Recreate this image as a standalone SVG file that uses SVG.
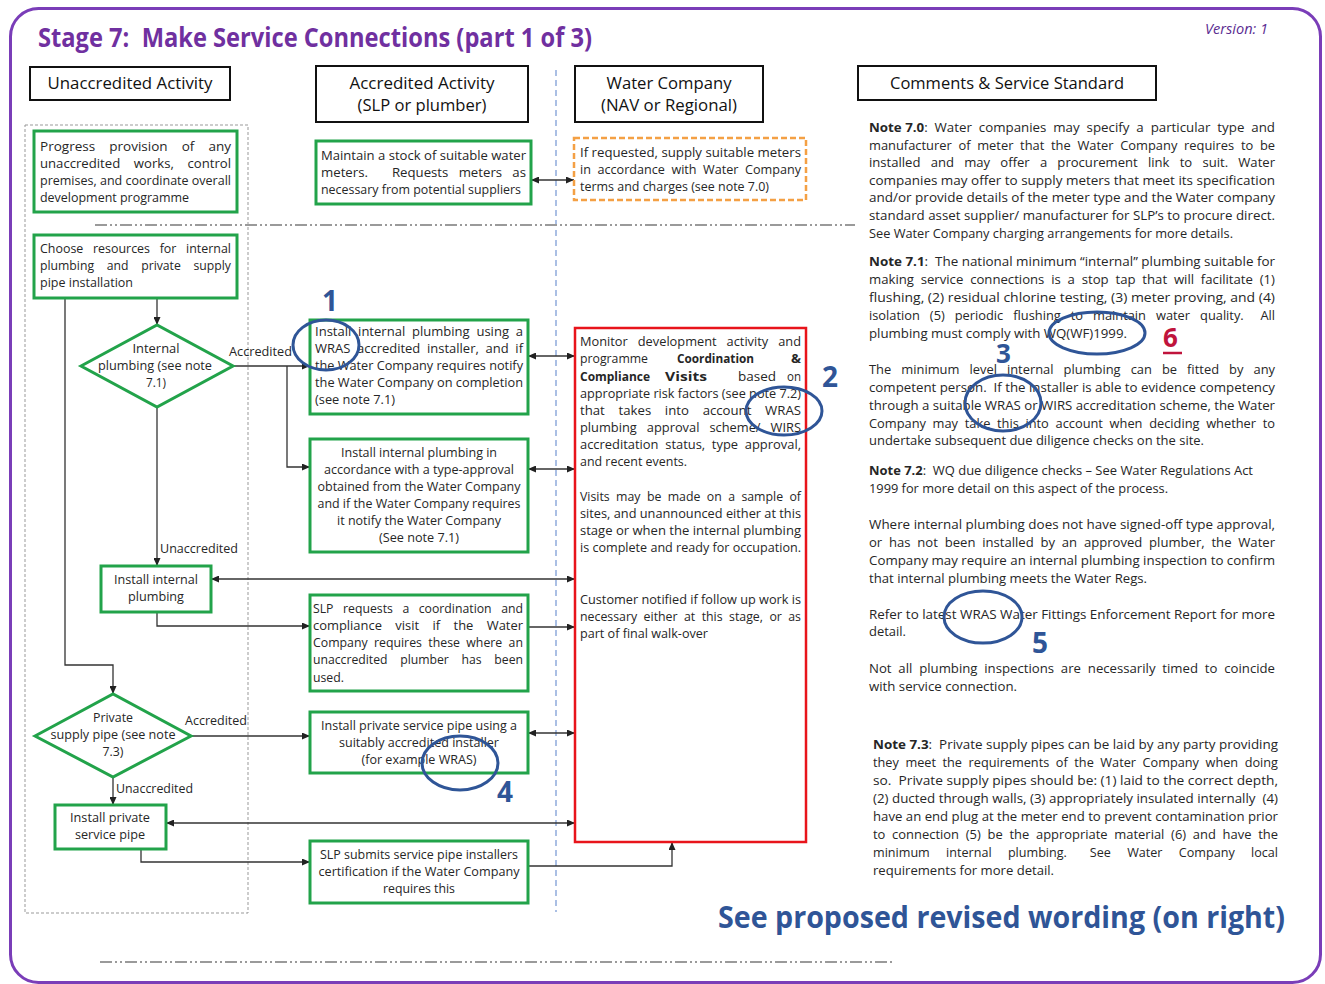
<svg xmlns="http://www.w3.org/2000/svg" width="1325" height="984" viewBox="0 0 1325 984">
<defs>
<style>
.t{font-family:"Open Sans","Liberation Sans",Arial,sans-serif;font-size:12px;fill:#262626;white-space:pre}
.b{font-weight:bold}
.h{font-size:16.5px;fill:#111}
.c{text-anchor:middle}
.box{fill:#fff;stroke:#22A34A;stroke-width:3}
.hdr{fill:#fff;stroke:#111;stroke-width:2}
.con{fill:none;stroke:#333;stroke-width:1.3}
.ell{fill:none;stroke:#2F5597;stroke-width:3}
.num{font-family:"Open Sans","Liberation Sans",sans-serif;font-weight:bold;font-size:28px;fill:#2F5597}
.sep{fill:none;stroke:#9a9a9a;stroke-width:2;stroke-dasharray:12 3 2 3 2 3}
</style>
<marker id="ah" viewBox="0 0 8 7" refX="8" refY="3.5" markerWidth="8" markerHeight="7" markerUnits="userSpaceOnUse" orient="auto-start-reverse">
<path d="M0,0 L8,3.5 L0,7 z" fill="#222"/>
</marker>
</defs>
<rect width="1325" height="984" fill="#fff"/>
<rect x="10.5" y="8.5" width="1310" height="974" rx="28" fill="none" stroke="#7A3DB8" stroke-width="3"/>

<text class="t b" x="38" y="47" style="font-size:26px;fill:#7030A0" textLength="554" lengthAdjust="spacingAndGlyphs">Stage 7:  Make Service Connections (part 1 of 3)</text>
<text class="t" x="1205" y="34" style="font-size:14px;font-style:italic;fill:#5B2C91" textLength="63" lengthAdjust="spacingAndGlyphs">Version: 1</text>

<!-- separators -->
<g id="separators">
<rect x="25" y="125" width="223" height="788" fill="none" stroke="#999" stroke-width="1" stroke-dasharray="3 2"/>
<line x1="556" y1="70" x2="556" y2="912" stroke="#8FAADC" stroke-width="1.5" stroke-dasharray="6 4"/>
<line class="sep" x1="95" y1="225" x2="855" y2="225"/>
<line class="sep" x1="100" y1="962" x2="895" y2="962"/>
</g>

<!-- headers -->
<g id="hdr-unaccredited"><rect class="hdr" x="30" y="67" width="200" height="33"/><text class="t h c" x="130" y="89" textLength="165" lengthAdjust="spacingAndGlyphs">Unaccredited Activity</text></g>
<g id="hdr-accredited"><rect class="hdr" x="316" y="66" width="212" height="56"/><text class="t h c" x="422" y="89" textLength="145" lengthAdjust="spacingAndGlyphs">Accredited Activity</text><text class="t h c" x="422" y="111" textLength="129" lengthAdjust="spacingAndGlyphs">(SLP or plumber)</text></g>
<g id="hdr-water"><rect class="hdr" x="575" y="66" width="188" height="56"/><text class="t h c" x="669" y="89" textLength="125" lengthAdjust="spacingAndGlyphs">Water Company</text><text class="t h c" x="669" y="111" textLength="136" lengthAdjust="spacingAndGlyphs">(NAV or Regional)</text></g>
<g id="hdr-comments"><rect class="hdr" x="858" y="66" width="298" height="34"/><text class="t h c" x="1007" y="89" textLength="234" lengthAdjust="spacingAndGlyphs">Comments &amp; Service Standard</text></g>

<!-- connectors -->
<g id="connectors">
<path class="con" d="M531,180 H574" marker-start="url(#ah)" marker-end="url(#ah)"/>
<path class="con" d="M157,298 V325" marker-end="url(#ah)"/>
<path class="con" d="M65,298 V665 H113 V694" marker-end="url(#ah)"/>
<path class="con" d="M233,366 H310" marker-end="url(#ah)"/>
<path class="con" d="M287,366 V467 H310" marker-end="url(#ah)"/>
<path class="con" d="M528,356 H575" marker-start="url(#ah)" marker-end="url(#ah)"/>
<path class="con" d="M528,469 H575" marker-start="url(#ah)" marker-end="url(#ah)"/>
<path class="con" d="M157,407 V566" marker-end="url(#ah)"/>
<path class="con" d="M211,579 H575" marker-start="url(#ah)" marker-end="url(#ah)"/>
<path class="con" d="M157,612 V626 H310" marker-end="url(#ah)"/>
<path class="con" d="M528,627 H575" marker-end="url(#ah)"/>
<path class="con" d="M191,736 H310" marker-end="url(#ah)"/>
<path class="con" d="M528,733 H575" marker-start="url(#ah)" marker-end="url(#ah)"/>
<path class="con" d="M113,777 V805" marker-end="url(#ah)"/>
<path class="con" d="M166,823 H575" marker-start="url(#ah)" marker-end="url(#ah)"/>
<path class="con" d="M141,849 V862 H310" marker-end="url(#ah)"/>
<path class="con" d="M528,866 H672 V842" marker-end="url(#ah)"/>
<text class="t" x="229" y="356" textLength="63" lengthAdjust="spacingAndGlyphs">Accredited</text>
<text class="t" x="160" y="553" textLength="78" lengthAdjust="spacingAndGlyphs">Unaccredited</text>
<text class="t" x="185" y="725" textLength="62" lengthAdjust="spacingAndGlyphs">Accredited</text>
<text class="t" x="116" y="793" textLength="77" lengthAdjust="spacingAndGlyphs">Unaccredited</text>
</g>

<!-- nodes -->
<g id="progress"><rect class="box" x="34" y="131" width="203" height="81"/>
<text class="t" x="40" y="151" textLength="191" lengthAdjust="spacingAndGlyphs">Progress    provision    of    any</text>
<text class="t" x="40" y="168" textLength="191" lengthAdjust="spacingAndGlyphs">unaccredited    works,    control</text>
<text class="t" x="40" y="185" textLength="191" lengthAdjust="spacingAndGlyphs">premises, and coordinate overall</text>
<text class="t" x="40" y="202" textLength="149" lengthAdjust="spacingAndGlyphs">development programme</text></g>

<g id="maintain"><rect class="box" x="316" y="141" width="215" height="63"/>
<text class="t" x="321" y="160" textLength="205" lengthAdjust="spacingAndGlyphs">Maintain a stock of suitable water</text>
<text class="t" x="321" y="177" textLength="205" lengthAdjust="spacingAndGlyphs">meters.       Requests   meters   as</text>
<text class="t" x="321" y="194" textLength="200" lengthAdjust="spacingAndGlyphs">necessary from potential suppliers</text></g>

<g id="supply-meters"><rect x="574" y="138" width="232" height="62" fill="#fff" stroke="#F4A044" stroke-width="2.5" stroke-dasharray="6 3"/>
<text class="t" x="580" y="157" textLength="221" lengthAdjust="spacingAndGlyphs">If requested, supply suitable meters</text>
<text class="t" x="580" y="174" textLength="221" lengthAdjust="spacingAndGlyphs">in  accordance  with  Water  Company</text>
<text class="t" x="580" y="191" textLength="189" lengthAdjust="spacingAndGlyphs">terms and charges (see note 7.0)</text></g>

<g id="choose"><rect class="box" x="34" y="235" width="203" height="63"/>
<text class="t" x="40" y="253" textLength="191" lengthAdjust="spacingAndGlyphs">Choose   resources   for   internal</text>
<text class="t" x="40" y="270" textLength="191" lengthAdjust="spacingAndGlyphs">plumbing    and    private    supply</text>
<text class="t" x="40" y="287" textLength="93" lengthAdjust="spacingAndGlyphs">pipe installation</text></g>

<g id="dec-internal"><polygon class="box" points="81,366 157,325 233,366 157,407"/>
<text class="t c" x="156" y="353" textLength="47" lengthAdjust="spacingAndGlyphs">Internal</text>
<text class="t c" x="155" y="370" textLength="114" lengthAdjust="spacingAndGlyphs">plumbing (see note</text>
<text class="t c" x="156" y="387" textLength="20" lengthAdjust="spacingAndGlyphs">7.1)</text></g>

<g id="install-wras"><rect class="box" x="310" y="320" width="218" height="94"/>
<text class="t" x="315" y="336" textLength="208" lengthAdjust="spacingAndGlyphs">Install  internal  plumbing  using  a</text>
<text class="t" x="315" y="353" textLength="208" lengthAdjust="spacingAndGlyphs">WRAS  accredited  installer,  and  if</text>
<text class="t" x="315" y="370" textLength="208" lengthAdjust="spacingAndGlyphs">the Water Company requires notify</text>
<text class="t" x="315" y="387" textLength="208" lengthAdjust="spacingAndGlyphs">the Water Company on completion</text>
<text class="t" x="315" y="404" textLength="80" lengthAdjust="spacingAndGlyphs">(see note 7.1)</text></g>

<g id="install-type-approval"><rect class="box" x="310" y="439" width="218" height="113"/>
<text class="t c" x="419" y="457" textLength="156" lengthAdjust="spacingAndGlyphs">Install internal plumbing in</text>
<text class="t c" x="419" y="474" textLength="190" lengthAdjust="spacingAndGlyphs">accordance with a type-approval</text>
<text class="t c" x="419" y="491" textLength="203" lengthAdjust="spacingAndGlyphs">obtained from the Water Company</text>
<text class="t c" x="419" y="508" textLength="203" lengthAdjust="spacingAndGlyphs">and if the Water Company requires</text>
<text class="t c" x="419" y="525" textLength="164" lengthAdjust="spacingAndGlyphs">it notify the Water Company</text>
<text class="t c" x="419" y="542" textLength="80" lengthAdjust="spacingAndGlyphs">(See note 7.1)</text></g>

<g id="install-internal"><rect class="box" x="101" y="566" width="110" height="46"/>
<text class="t c" x="156" y="584" textLength="84" lengthAdjust="spacingAndGlyphs">Install internal</text>
<text class="t c" x="156" y="601" textLength="56" lengthAdjust="spacingAndGlyphs">plumbing</text></g>

<g id="slp-requests"><rect class="box" x="310" y="595" width="218" height="96"/>
<text class="t" x="313" y="613" textLength="210" lengthAdjust="spacingAndGlyphs">SLP   requests   a   coordination   and</text>
<text class="t" x="313" y="630" textLength="210" lengthAdjust="spacingAndGlyphs">compliance    visit    if    the    Water</text>
<text class="t" x="313" y="647" textLength="210" lengthAdjust="spacingAndGlyphs">Company  requires  these  where  an</text>
<text class="t" x="313" y="664" textLength="210" lengthAdjust="spacingAndGlyphs">unaccredited    plumber    has    been</text>
<text class="t" x="313" y="682" textLength="31" lengthAdjust="spacingAndGlyphs">used.</text></g>

<g id="dec-private"><polygon class="box" points="35,736 113,694 191,736 113,777"/>
<text class="t c" x="113" y="722" textLength="40" lengthAdjust="spacingAndGlyphs">Private</text>
<text class="t c" x="113" y="739" textLength="125" lengthAdjust="spacingAndGlyphs">supply pipe (see note</text>
<text class="t c" x="113" y="756" textLength="21" lengthAdjust="spacingAndGlyphs">7.3)</text></g>

<g id="install-private-accredited"><rect class="box" x="310" y="712" width="218" height="61"/>
<text class="t c" x="419" y="730" textLength="196" lengthAdjust="spacingAndGlyphs">Install private service pipe using a</text>
<text class="t c" x="419" y="747" textLength="160" lengthAdjust="spacingAndGlyphs">suitably accredited installer</text>
<text class="t c" x="419" y="764" textLength="115" lengthAdjust="spacingAndGlyphs">(for example WRAS)</text></g>

<g id="install-private"><rect class="box" x="55" y="805" width="111" height="44"/>
<text class="t c" x="110" y="822" textLength="80" lengthAdjust="spacingAndGlyphs">Install private</text>
<text class="t c" x="110" y="839" textLength="70" lengthAdjust="spacingAndGlyphs">service pipe</text></g>

<g id="slp-submits"><rect class="box" x="310" y="841" width="218" height="62"/>
<text class="t c" x="419" y="859" textLength="198" lengthAdjust="spacingAndGlyphs">SLP submits service pipe installers</text>
<text class="t c" x="419" y="876" textLength="201" lengthAdjust="spacingAndGlyphs">certification if the Water Company</text>
<text class="t c" x="419" y="893" textLength="72" lengthAdjust="spacingAndGlyphs">requires this</text></g>

<g id="monitor"><rect x="575" y="328" width="231" height="514" fill="#fff" stroke="#E8141B" stroke-width="2.5"/>
<text class="t" x="580" y="346" textLength="221" lengthAdjust="spacingAndGlyphs">Monitor   development   activity   and</text>
<text class="t" x="580" y="363" textLength="68" lengthAdjust="spacingAndGlyphs">programme</text>
<text class="t b" x="677" y="363" textLength="77" lengthAdjust="spacingAndGlyphs">Coordination</text>
<text class="t b" x="791" y="363" textLength="10" lengthAdjust="spacingAndGlyphs">&amp;</text>
<text class="t b" x="580" y="381" textLength="70" lengthAdjust="spacingAndGlyphs">Compliance</text>
<text class="t b" x="665" y="381" textLength="42" lengthAdjust="spacingAndGlyphs">Visits</text>
<text class="t" x="738" y="381" textLength="38" lengthAdjust="spacingAndGlyphs">based</text>
<text class="t" x="787" y="381" textLength="14" lengthAdjust="spacingAndGlyphs">on</text>
<text class="t" x="580" y="398" textLength="221" lengthAdjust="spacingAndGlyphs">appropriate risk factors (see note 7.2)</text>
<text class="t" x="580" y="415" textLength="221" lengthAdjust="spacingAndGlyphs">that    takes    into    account    WRAS</text>
<text class="t" x="580" y="432" textLength="221" lengthAdjust="spacingAndGlyphs">plumbing   approval   scheme/   WIRS</text>
<text class="t" x="580" y="449" textLength="221" lengthAdjust="spacingAndGlyphs">accreditation  status,  type  approval,</text>
<text class="t" x="580" y="466" textLength="107" lengthAdjust="spacingAndGlyphs">and recent events.</text>
<text class="t" x="580" y="501" textLength="221" lengthAdjust="spacingAndGlyphs">Visits  may  be  made  on  a  sample  of</text>
<text class="t" x="580" y="518" textLength="221" lengthAdjust="spacingAndGlyphs">sites, and unannounced either at this</text>
<text class="t" x="580" y="535" textLength="221" lengthAdjust="spacingAndGlyphs">stage or when the internal plumbing</text>
<text class="t" x="580" y="552" textLength="221" lengthAdjust="spacingAndGlyphs">is complete and ready for occupation.</text>
<text class="t" x="580" y="604" textLength="221" lengthAdjust="spacingAndGlyphs">Customer notified if follow up work is</text>
<text class="t" x="580" y="621" textLength="221" lengthAdjust="spacingAndGlyphs">necessary  either  at  this  stage,  or  as</text>
<text class="t" x="580" y="638" textLength="128" lengthAdjust="spacingAndGlyphs">part of final walk-over</text></g>

<!-- comments -->
<g id="comments">
<text class="t" x="869" y="132" textLength="406" lengthAdjust="spacingAndGlyphs"><tspan class="b">Note 7.0</tspan>:  Water  companies  may  specify  a  particular  type  and</text>
<text class="t" x="869" y="150" textLength="406" lengthAdjust="spacingAndGlyphs">manufacturer  of  meter  that  the  Water  Company  requires  to  be</text>
<text class="t" x="869" y="167" textLength="406" lengthAdjust="spacingAndGlyphs">installed   and   may   offer   a   procurement   link   to   suit.   Water</text>
<text class="t" x="869" y="185" textLength="406" lengthAdjust="spacingAndGlyphs">companies may offer to supply meters that meet its specification</text>
<text class="t" x="869" y="202" textLength="406" lengthAdjust="spacingAndGlyphs">and/or provide details of the meter type and the Water company</text>
<text class="t" x="869" y="220" textLength="406" lengthAdjust="spacingAndGlyphs">standard asset supplier/ manufacturer for SLP’s to procure direct.</text>
<text class="t" x="869" y="238" textLength="364" lengthAdjust="spacingAndGlyphs">See Water Company charging arrangements for more details.</text>

<text class="t" x="869" y="266" textLength="406" lengthAdjust="spacingAndGlyphs"><tspan class="b">Note 7.1</tspan>:  The national minimum “internal” plumbing suitable for</text>
<text class="t" x="869" y="284" textLength="406" lengthAdjust="spacingAndGlyphs">making  service  connections  is  a  stop  tap  that  will  facilitate  (1)</text>
<text class="t" x="869" y="302" textLength="406" lengthAdjust="spacingAndGlyphs">flushing, (2) residual chlorine testing, (3) meter proving, and (4)</text>
<text class="t" x="869" y="320" textLength="406" lengthAdjust="spacingAndGlyphs">isolation   (5)   periodic   flushing   to   maintain   water   quality.     All</text>
<text class="t" x="869" y="338" textLength="258" lengthAdjust="spacingAndGlyphs">plumbing must comply with WQ(WF)1999.</text>

<text class="t" x="869" y="374" textLength="406" lengthAdjust="spacingAndGlyphs">The   minimum   level   internal   plumbing   can   be   fitted   by   any</text>
<text class="t" x="869" y="392" textLength="406" lengthAdjust="spacingAndGlyphs">competent person.  If the installer is able to evidence competency</text>
<text class="t" x="869" y="410" textLength="406" lengthAdjust="spacingAndGlyphs">through a suitable WRAS or WIRS accreditation scheme, the Water</text>
<text class="t" x="869" y="428" textLength="406" lengthAdjust="spacingAndGlyphs">Company  may  take  this  into  account  when  deciding  whether  to</text>
<text class="t" x="869" y="445" textLength="335" lengthAdjust="spacingAndGlyphs">undertake subsequent due diligence checks on the site.</text>

<text class="t" x="869" y="475" textLength="384" lengthAdjust="spacingAndGlyphs"><tspan class="b">Note 7.2</tspan>:  WQ due diligence checks – See Water Regulations Act</text>
<text class="t" x="869" y="493" textLength="299" lengthAdjust="spacingAndGlyphs">1999 for more detail on this aspect of the process.</text>

<text class="t" x="869" y="529" textLength="406" lengthAdjust="spacingAndGlyphs">Where internal plumbing does not have signed-off type approval,</text>
<text class="t" x="869" y="547" textLength="406" lengthAdjust="spacingAndGlyphs">or  has  not  been  installed  by  an  approved  plumber,  the  Water</text>
<text class="t" x="869" y="565" textLength="406" lengthAdjust="spacingAndGlyphs">Company may require an internal plumbing inspection to confirm</text>
<text class="t" x="869" y="583" textLength="278" lengthAdjust="spacingAndGlyphs">that internal plumbing meets the Water Regs.</text>

<text class="t" x="869" y="619" textLength="406" lengthAdjust="spacingAndGlyphs">Refer to latest WRAS Water Fittings Enforcement Report for more</text>
<text class="t" x="869" y="636" textLength="37" lengthAdjust="spacingAndGlyphs">detail.</text>

<text class="t" x="869" y="673" textLength="406" lengthAdjust="spacingAndGlyphs">Not  all  plumbing  inspections  are  necessarily  timed  to  coincide</text>
<text class="t" x="869" y="691" textLength="148" lengthAdjust="spacingAndGlyphs">with service connection.</text>

<text class="t" x="873" y="749" textLength="405" lengthAdjust="spacingAndGlyphs"><tspan class="b">Note 7.3</tspan>:  Private supply pipes can be laid by any party providing</text>
<text class="t" x="873" y="767" textLength="405" lengthAdjust="spacingAndGlyphs">they  meet  the  requirements  of  the  Water  Company  when  doing</text>
<text class="t" x="873" y="785" textLength="405" lengthAdjust="spacingAndGlyphs">so.  Private supply pipes should be: (1) laid to the correct depth,</text>
<text class="t" x="873" y="803" textLength="405" lengthAdjust="spacingAndGlyphs">(2) ducted through walls, (3) appropriately insulated internally  (4)</text>
<text class="t" x="873" y="821" textLength="405" lengthAdjust="spacingAndGlyphs">have an end plug at the meter end to prevent contamination prior</text>
<text class="t" x="873" y="839" textLength="405" lengthAdjust="spacingAndGlyphs">to  connection  (5)  be  the  appropriate  material  (6)  and  have  the</text>
<text class="t" x="873" y="857" textLength="405" lengthAdjust="spacingAndGlyphs">minimum     internal     plumbing.       See     Water     Company     local</text>
<text class="t" x="873" y="875" textLength="181" lengthAdjust="spacingAndGlyphs">requirements for more detail.</text>
</g>

<text class="t b" x="718" y="928" style="font-size:30px;fill:#2F5597" textLength="567" lengthAdjust="spacingAndGlyphs">See proposed revised wording (on right)</text>

<!-- annotations -->
<g id="annotations">
<ellipse class="ell" cx="326" cy="345" rx="33" ry="25"/>
<text class="num" x="322" y="311">1</text>
<ellipse class="ell" cx="784" cy="411" rx="38" ry="24"/>
<text class="num" x="822" y="387">2</text>
<ellipse class="ell" cx="1003" cy="403" rx="38" ry="28"/>
<text class="num" x="996" y="363" style="font-size:26px">3</text>
<ellipse class="ell" cx="460" cy="763" rx="38" ry="27"/>
<text class="num" x="497" y="802">4</text>
<ellipse class="ell" cx="983" cy="617" rx="39" ry="26"/>
<text class="num" x="1032" y="653">5</text>
<ellipse class="ell" cx="1097" cy="333" rx="48" ry="21"/>
<text class="num" x="1163" y="347" style="fill:#C0143C;font-size:26px">6</text>
<line x1="1163" y1="353" x2="1182" y2="353" stroke="#C0143C" stroke-width="2.5"/>
</g>
</svg>
